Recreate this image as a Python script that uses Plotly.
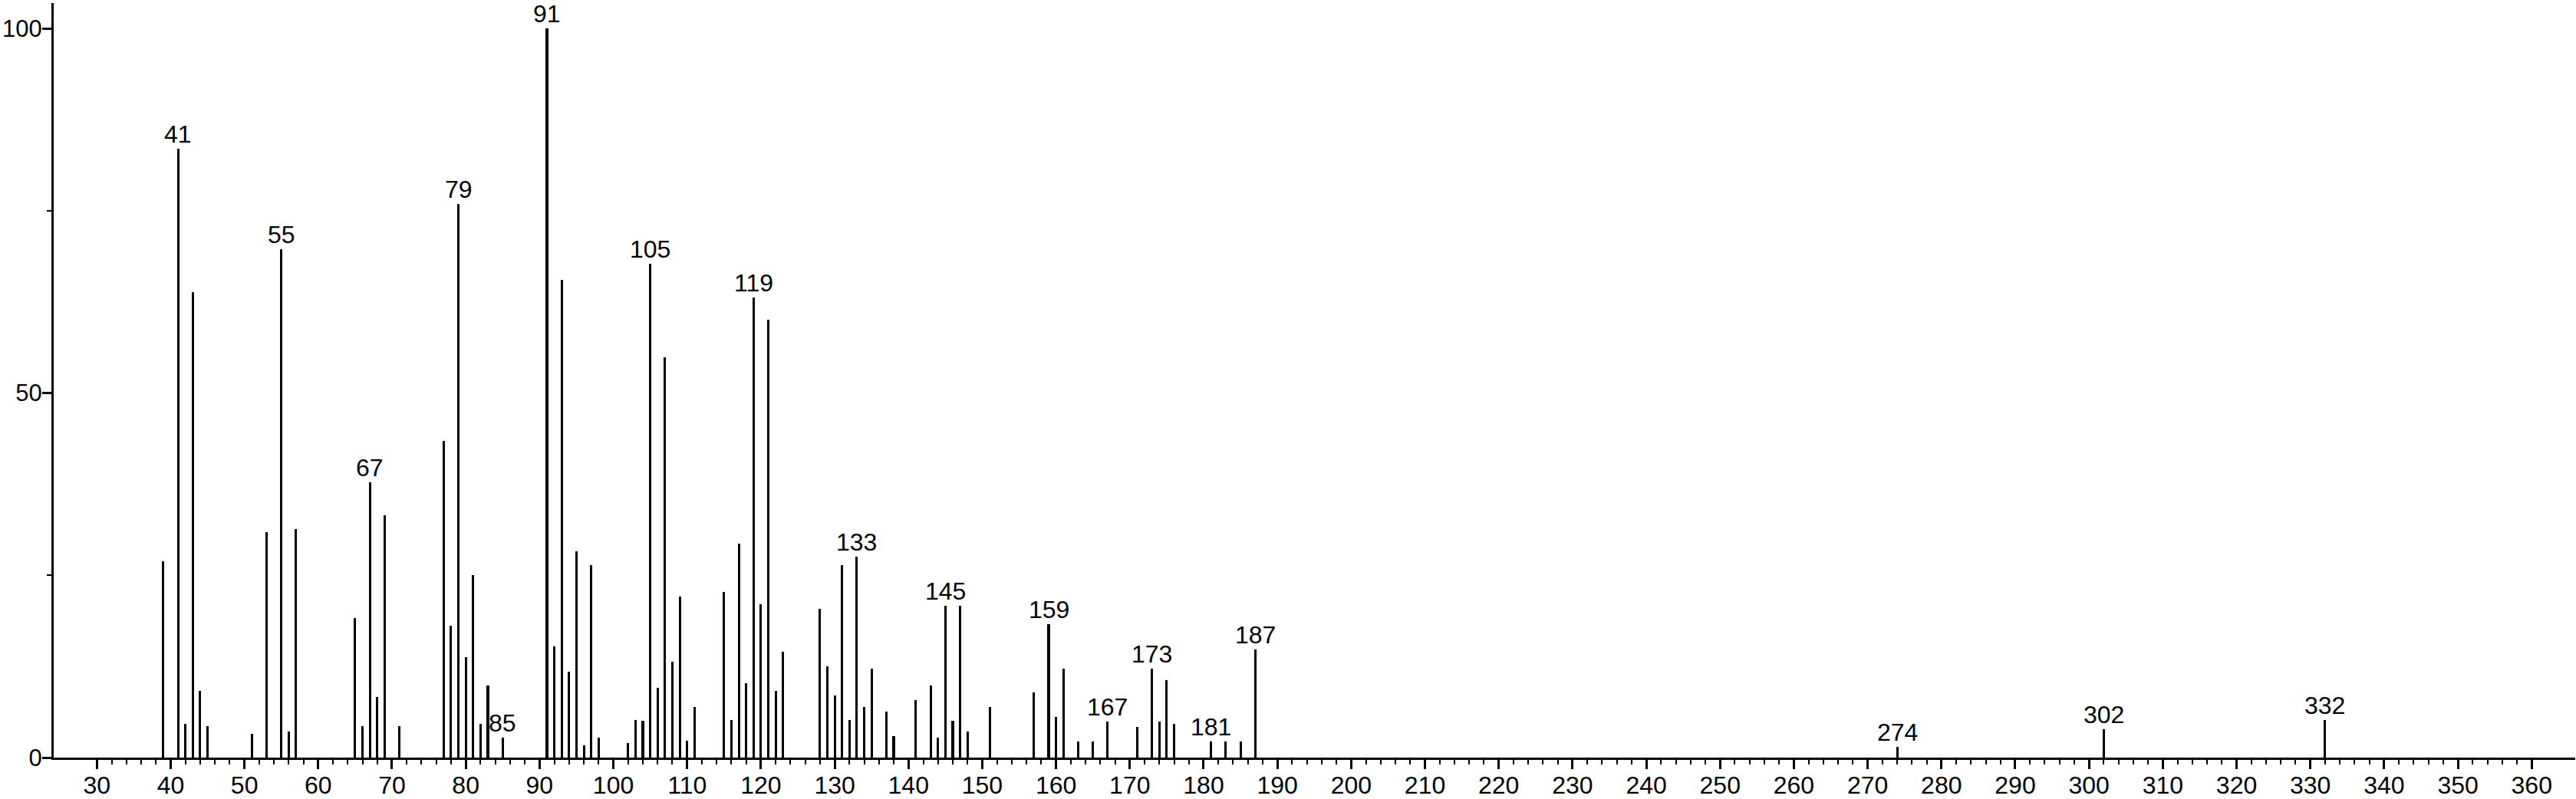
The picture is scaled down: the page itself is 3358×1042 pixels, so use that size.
import plotly.graph_objects as go

# m/z values and relative intensities
mz = [39, 41, 42, 43, 44, 45, 51, 53, 55, 56, 57, 65, 66, 67, 68, 69, 71,
      77, 78, 79, 80, 81, 82, 83, 85, 91, 92, 93, 94, 95, 96, 97, 98,
      102, 103, 104, 105, 106, 107, 108, 109, 110, 111, 115, 116, 117, 118,
      119, 120, 121, 122, 123, 128, 129, 130, 131, 132, 133, 134, 135, 137,
      138, 141, 143, 144, 145, 146, 147, 148, 151, 157, 159, 160, 161, 163,
      165, 167, 171, 173, 174, 175, 176, 181, 183, 185, 187, 274, 302, 332]
intensity = [26.9, 83.5, 4.6, 63.8, 9.2, 4.3, 3.3, 30.9, 69.7, 3.6, 31.3,
             19.1, 4.3, 37.8, 8.3, 33.2, 4.3,
             43.4, 18.1, 75.9, 13.8, 25.0, 4.6, 9.9, 2.7, 100.0, 15.2, 65.5,
             11.8, 28.3, 1.7, 26.4, 2.7,
             2.0, 5.2, 5.0, 67.7, 9.6, 54.9, 13.1, 22.1, 2.3, 6.9, 22.7, 5.2,
             29.3, 10.2,
             63.1, 21.0, 60.1, 9.2, 14.5, 20.4, 12.5, 8.5, 26.4, 5.2, 27.6,
             6.9, 12.2, 6.3,
             2.9, 7.9, 9.9, 2.7, 20.8, 5.0, 20.8, 3.6, 6.9, 8.9, 18.3, 5.6,
             12.2, 2.2,
             2.2, 4.9, 4.2, 12.2, 4.9, 10.6, 4.6, 2.2, 2.2, 2.2, 14.8, 1.5,
             3.9, 5.2]

labeled_peaks = [41, 55, 67, 79, 85, 91, 105, 119, 133, 145, 159, 167, 173,
                 181, 187, 274, 302, 332]

x_major = list(range(30, 361, 10))
x_minor = [v for v in range(30, 361, 2) if v % 10 != 0]
y_major = [0, 50, 100]
y_minor = [25, 75]

FONT = "Liberation Sans, Arial, Helvetica, sans-serif"
FS = 32

fig = go.Figure()
fig.add_trace(go.Bar(
    x=mz, y=intensity, width=0.32,
    marker=dict(color="black", line=dict(width=0)),
    hoverinfo="x+y", showlegend=False,
))

lookup = dict(zip(mz, intensity))
for p in labeled_peaks:
    fig.add_annotation(
        x=p, y=lookup[p], text=str(p), showarrow=False,
        xanchor="center", yanchor="bottom", yshift=-1,
        font=dict(family=FONT, size=FS, color="black"),
    )

fig.update_layout(
    width=3358, height=1042,
    margin=dict(l=70, r=1, t=4, b=54, pad=0),
    paper_bgcolor="white", plot_bgcolor="white",
    bargap=0,
    font=dict(family=FONT, size=FS, color="black"),
)
fig.update_xaxes(
    range=[24.15, 365.9], showgrid=False, zeroline=False, automargin=False,
    showline=True, linecolor="black", linewidth=3,
    ticks="outside", tickvals=x_major, ticktext=[str(v) for v in x_major],
    ticklen=12, tickwidth=3, tickcolor="black", ticklabelstandoff=-6,
    tickfont=dict(family=FONT, size=FS, color="black"),
    minor=dict(tickvals=x_minor, ticks="outside", ticklen=6, tickwidth=2,
               tickcolor="black", showgrid=False),
)
fig.update_yaxes(
    range=[0, 103.5], showgrid=False, zeroline=False, automargin=False,
    showline=True, linecolor="black", linewidth=3,
    ticks="outside", tickvals=y_major, ticktext=[str(v) for v in y_major],
    ticklen=12, tickwidth=3, tickcolor="black", ticklabelstandoff=-6,
    tickfont=dict(family=FONT, size=31, color="black"),
    minor=dict(tickvals=y_minor, ticks="outside", ticklen=6, tickwidth=2,
               tickcolor="black", showgrid=False),
)

fig.write_html(
    "out.html",
    config={"displayModeBar": False},
    post_script="document.body.style.margin='0';document.body.style.overflow='hidden';",
)
